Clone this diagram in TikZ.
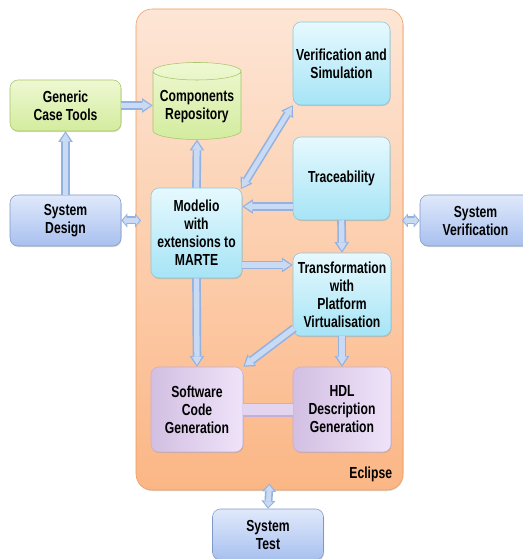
\documentclass[tikz,border=0pt]{standalone}
\usepackage{fontspec}
\usepackage{xcolor}
\usepackage{tikz}
\usetikzlibrary{shapes,arrows.meta,positioning,shadows,calc}
\newfontfamily\boxfont{Liberation Sans}[FakeStretch=0.76]
\definecolor{greentop}{RGB}{238,248,210}
\definecolor{greenbot}{RGB}{211,236,158}
\definecolor{greenedge}{RGB}{166,196,106}
\definecolor{cyantop}{RGB}{230,249,254}
\definecolor{cyanbot}{RGB}{166,228,246}
\definecolor{cyanedge}{RGB}{134,199,220}
\definecolor{bluetop}{RGB}{224,233,251}
\definecolor{bluebot}{RGB}{168,192,239}
\definecolor{blueedge}{RGB}{126,152,201}
\definecolor{purpleleft}{RGB}{210,191,226}
\definecolor{purpleright}{RGB}{239,227,249}
\definecolor{purpleedge}{RGB}{195,174,215}
\definecolor{eclipsetop}{RGB}{253,230,214}
\definecolor{eclipsebot}{RGB}{251,182,133}
\definecolor{eclipseedge}{RGB}{238,154,90}
\definecolor{arrowfill}{RGB}{201,219,244}
\definecolor{arrowedge}{RGB}{148,178,224}

\tikzset{
    txt/.style={align=center, inner sep=2pt,
        font=\boxfont\bfseries\fontsize{12}{13.5}\selectfont},
    box/.style={txt, rounded corners=6pt,
        drop shadow={shadow xshift=0.4pt, shadow yshift=-0.8pt, opacity=0.3}},
    greenbox/.style={box, draw=greenedge, top color=greentop, bottom color=greenbot,
        minimum width=83.25pt, minimum height=38.25pt},
    bluebox/.style={box, draw=blueedge, top color=bluetop, bottom color=bluebot,
        minimum width=83.25pt, minimum height=38.25pt},
    cyanbox/.style={box, draw=cyanedge, top color=cyantop, bottom color=cyanbot,
        minimum width=72.75pt, minimum height=62.25pt},
    purplebox/.style={box, draw=purpleedge, left color=purpleleft, right color=purpleright,
        minimum height=63.75pt},
    store/.style={txt, cylinder, shape border rotate=90, aspect=0.22,
        draw=greenedge, top color=greentop, bottom color=greenbot,
        minimum width=66pt, minimum height=57.75pt},
    flow/.style={line width=6.5pt, draw=arrowedge,
        -{Triangle[length=8pt,width=11pt,line width=0pt]},
        postaction={draw=arrowfill, line width=4pt, shorten >=1.5pt,
            -{Triangle[length=6pt,width=7.5pt,line width=0pt]}}},
    twoway/.style={line width=6pt, draw=arrowedge,
        {Triangle[length=#1,width=10.5pt,line width=0pt]}-{Triangle[length=#1,width=10.5pt,line width=0pt]},
        postaction={draw=arrowfill, line width=3.6pt, shorten >=1.2pt, shorten <=1.2pt,
            {Triangle[length=#1-1.8pt,width=7pt,line width=0pt]}-{Triangle[length=#1-1.8pt,width=7pt,line width=0pt]}}},
    twoway/.default=4.5pt,
    link/.style={line width=10.5pt, draw=purpleedge,
        postaction={draw=purpleright!60!purpleleft, line width=8.5pt}}
}

\begin{document}
\begin{tikzpicture}[x=0.75pt, y=-0.75pt]
    \useasboundingbox (0,0) rectangle (523,559);
    \clip (0,0) rectangle (523,559);

    % Eclipse frame
    \node[draw=eclipseedge, top color=eclipsetop, bottom color=eclipsebot,
        rounded corners=12pt, minimum width=200.25pt, minimum height=360.75pt,
        drop shadow={shadow xshift=0.4pt, shadow yshift=-0.8pt, opacity=0.3}]
        (eclipse) at (269.5,249.5) {};
    \node[txt, anchor=east] (eclipselbl) at (395,474) {Eclipse};

    % Outside boxes
    \node[greenbox] (gct) at (65.5,105.5) {Generic\\Case Tools};
    \node[bluebox] (sysdes) at (65.5,220.5) {System\\Design};
    \node[bluebox] (sysver) at (475.5,220.5) {System\\Verification};
    \node[bluebox] (systest) at (268,534.5) {System\\Test};

    % Inside boxes
    \node[store] (repo) at (197,107) {Components\\Repository};
    \node[cyanbox] (versim) at (341.5,63.5) {Verification and\\Simulation};
    \node[cyanbox] (trace) at (341.5,178.5) {Traceability};
    \node[cyanbox, minimum width=68.25pt, minimum height=67.5pt]
        (modelio) at (196.5,233) {Modelio\\with\\extensions to\\MARTE};
    \node[cyanbox, minimum width=73.5pt] (transf) at (342,294.5)
        {Transformation\\with\\Platform\\Virtualisation};
    \node[purplebox, minimum width=69pt] (soft) at (197,409.5) {Software\\Code\\Generation};
    \node[purplebox, minimum width=73.5pt] (hdl) at (342,409.5) {HDL\\Description\\Generation};

    % Arrows
    \draw[flow] (gct.east) -- (gct.east -| repo.west);
    \draw[flow] (sysdes.north) -- (gct.south);
    \draw[twoway] (sysdes.east) -- ([xshift=4pt]sysdes.east -| eclipse.west);
    \draw[twoway] (sysver.west) -- ([xshift=-1pt]sysver.west -| eclipse.east);
    \draw[flow] (modelio.north) -- (repo.south);
    \draw[twoway=8pt] ([xshift=-1pt,yshift=-1pt]modelio.north east) -- (versim.south west);
    \draw[flow] ([yshift=-21pt]trace.west) -- ([yshift=-21pt]trace.west -| modelio.east);
    \draw[flow] (trace.south) -- (transf.north);
    \draw[flow] ([yshift=-24pt]modelio.east) -- ([yshift=-24pt]modelio.east -| transf.west);
    \draw[flow] (modelio.south) -- (soft.north);
    \draw[flow] ([xshift=1pt,yshift=6pt]transf.south west) -- (soft.north east);
    \draw[flow] (transf.south) -- (hdl.north);
    \draw[link] (soft.east) -- (hdl.west);
    \draw[twoway=6pt] ([yshift=5pt]eclipse.south) -- (systest.north);
\end{tikzpicture}
\end{document}
